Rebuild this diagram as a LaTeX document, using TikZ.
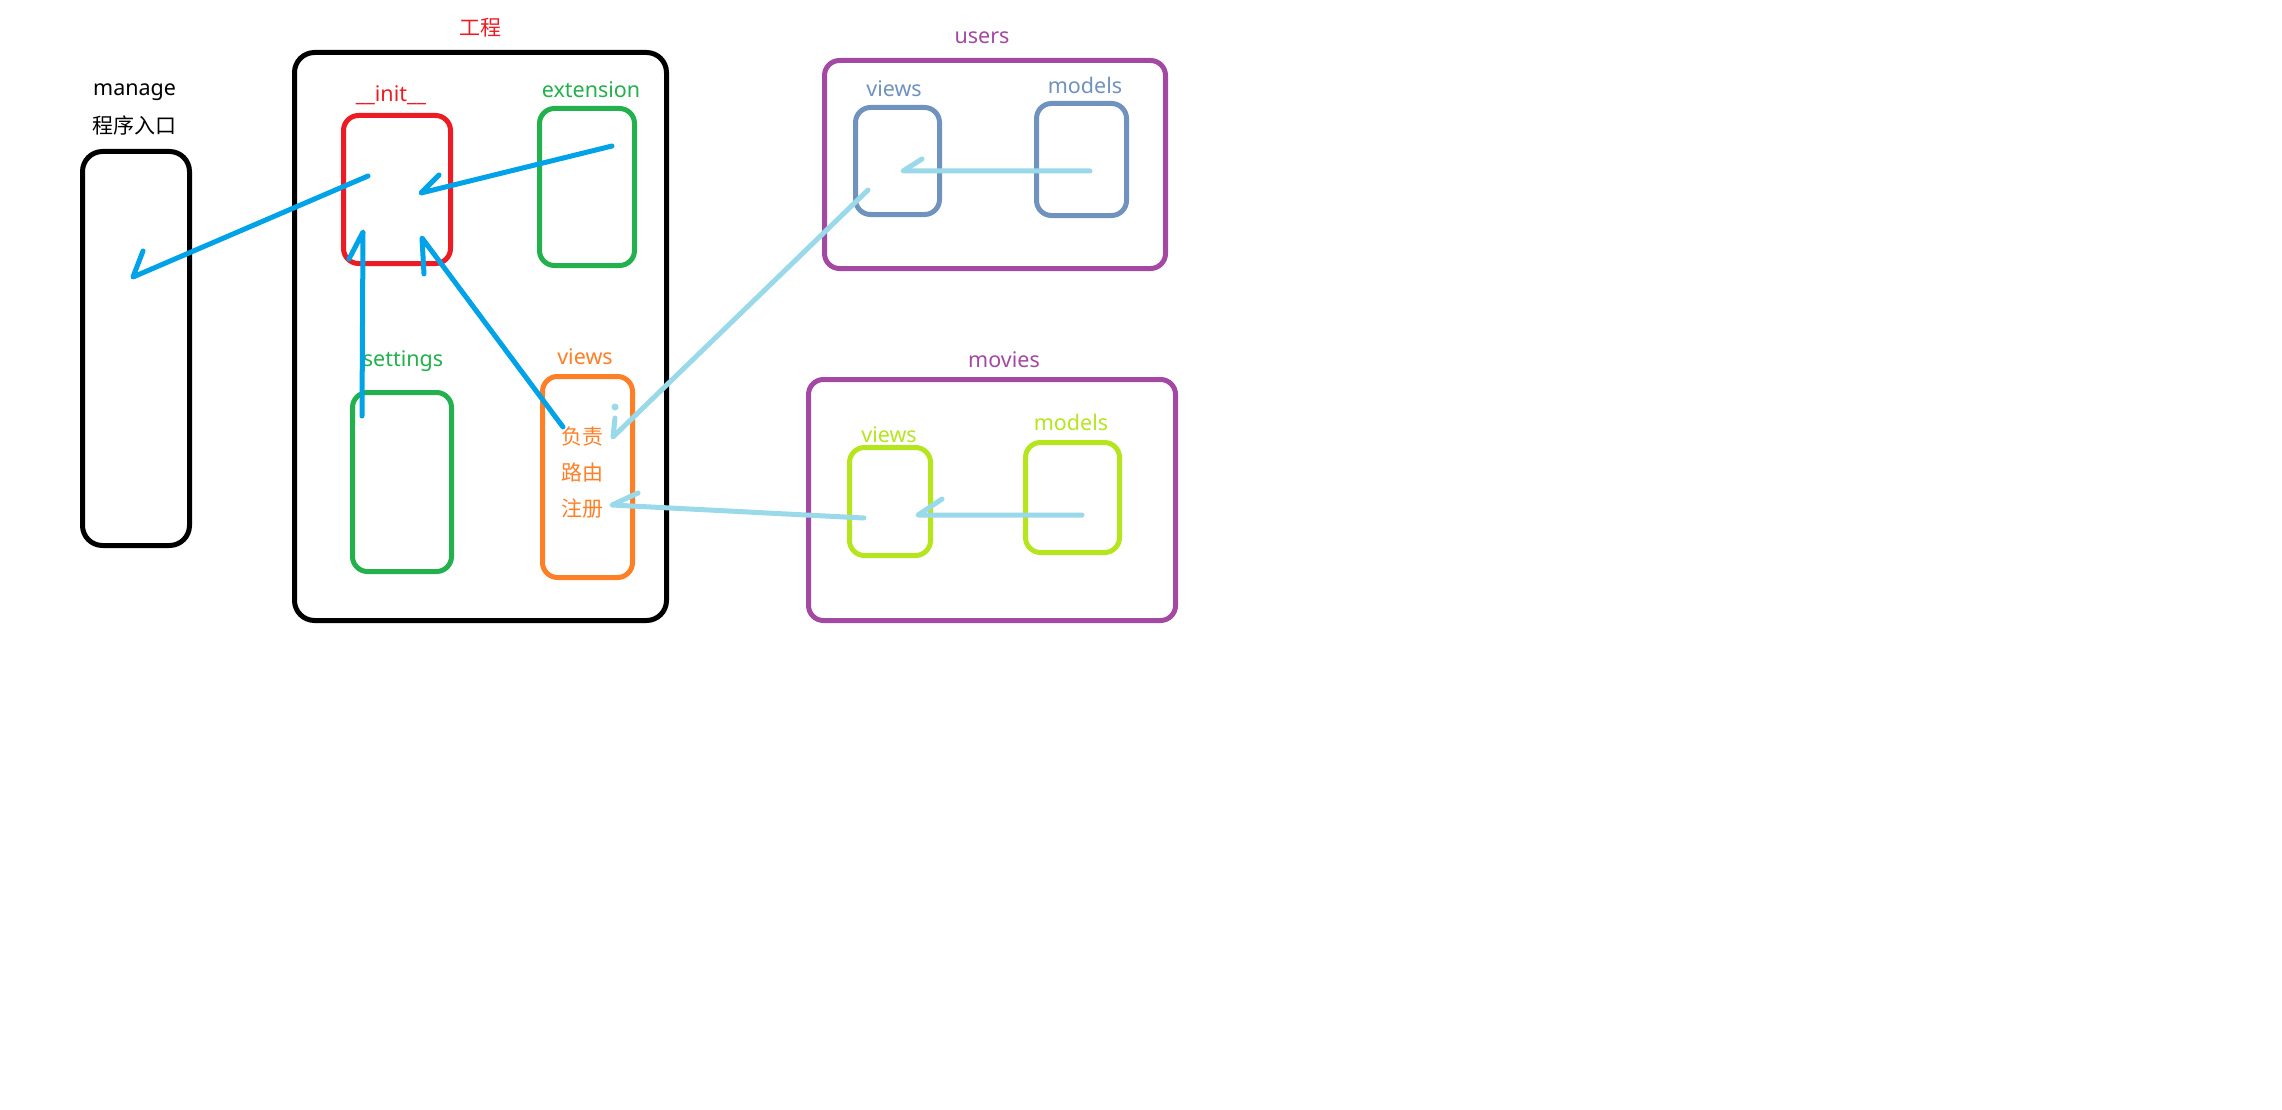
\documentclass[tikz,border=0pt]{standalone}
\usepackage{fontspec}
\setmainfont{Noto Sans}
\newfontfamily\cjkfont{Noto Sans CJK SC}
\usetikzlibrary{calc}

% Paint palette
\definecolor{paintred}{HTML}{ED1C24}
\definecolor{paintgreen}{HTML}{22B14C}
\definecolor{paintorange}{HTML}{FF7F27}
\definecolor{paintpurple}{HTML}{A349A4}
\definecolor{paintsteel}{HTML}{7092BE}
\definecolor{paintlime}{HTML}{B5E61D}
\definecolor{paintsky}{HTML}{99D9EA}
\definecolor{paintblue}{HTML}{00A2E8}

\begin{document}
\begin{tikzpicture}[x=1pt,y=-1pt,
  box/.style={draw, rounded corners=15pt, line width=5pt, inner sep=0pt, outer sep=0pt},
  bigbox/.style={box, rounded corners=20pt},
  lbl/.style={font=\fontsize{21.5}{25}\selectfont, inner sep=0pt, anchor=base},
  cjk/.style={font=\fontsize{21}{25}\selectfont\cjkfont, inner sep=0pt},
  link/.style={line width=5pt, line cap=round, line join=round},
]
\useasboundingbox[fill=white] (0,0) rectangle (2282,1110);

% ---- manage: program entry ----
\node[bigbox, minimum width=107pt, minimum height=394pt] (manage) at (136,348.5) {};
\node[lbl, anchor=base west] (managelbl) at (93,96) {manage};
\node[cjk, anchor=west] (entrylbl) at (92,125) {程序入口};

% ---- project package ----
\node[bigbox, minimum width=372pt, minimum height=568pt] (proj) at (480.5,336.5) {};
\node[cjk, text=paintred] (projlbl) at (480,28) {工程};

\node[box, draw=paintred, minimum width=107pt, minimum height=148pt] (init) at (397,189.5) {};
\node[lbl, text=paintred] (initlbl) at (391,102) {\_\_init\_\_};

\node[box, draw=paintgreen, minimum width=95pt, minimum height=157pt] (ext) at (587,187) {};
\node[lbl, text=paintgreen] (extlbl) at (591,98) {extension};

\node[box, draw=paintgreen, minimum width=99pt, minimum height=179pt] (settings) at (402,482) {};
\node[lbl, text=paintgreen] (settingslbl) at (403,366) {settings};

\node[box, draw=paintorange, minimum width=90pt, minimum height=201pt] (views) at (587.5,477) {};
\node[lbl, text=paintorange] (viewslbl) at (585,364) {views};
\node[cjk, text=paintorange] (fz) at (582,437) {负责};
\node[cjk, text=paintorange] (ly) at (582,473) {路由};
\node[cjk, text=paintorange] (zc) at (582,509) {注册};

% ---- users app ----
\node[box, draw=paintpurple, minimum width=341pt, minimum height=208pt] (users) at (995,164.5) {};
\node[lbl, text=paintpurple] (userslbl) at (982,44) {users};
\node[box, draw=paintsteel, minimum width=84pt, minimum height=107pt] (uviews) at (897.5,161) {};
\node[lbl, text=paintsteel] (uviewslbl) at (894,97) {views};
\node[box, draw=paintsteel, minimum width=90pt, minimum height=112pt] (umodels) at (1081.5,159.5) {};
\node[lbl, text=paintsteel] (umodelslbl) at (1085,94) {models};

% ---- movies app ----
\node[box, draw=paintpurple, minimum width=367pt, minimum height=241pt] (movies) at (992,500) {};
\node[lbl, text=paintpurple] (movieslbl) at (1004,367) {movies};
\node[box, draw=paintlime, minimum width=81pt, minimum height=108pt] (mviews) at (890,501.5) {};
\node[lbl, text=paintlime] (mviewslbl) at (889,442) {views};
\node[box, draw=paintlime, minimum width=94pt, minimum height=110pt] (mmodels) at (1072.5,497.5) {};
\node[lbl, text=paintlime] (mmodelslbl) at (1071,430) {models};

% ---- end points of the hand-drawn arrows ----
\coordinate (a1s) at (368,176);  \coordinate (a1t) at (133,277);
\coordinate (a2s) at (612,146);  \coordinate (a2t) at (421,193);
\coordinate (a3s) at (362,416);  \coordinate (a3t) at (363,232);
\coordinate (a4s) at (563,427);  \coordinate (a4t) at (422,238);
\coordinate (a5s) at (868,190);  \coordinate (a5t) at (613,437);
\coordinate (a6s) at (864,518);  \coordinate (a6t) at (612,505);
\coordinate (a7s) at (1090,171); \coordinate (a7t) at (903,171);
\coordinate (a8s) at (1082,515); \coordinate (a8t) at (918,515);

% imports inside the project
\draw[link, paintblue] (a1s) -- (a1t) -- ++(10,-26);
\draw[link, paintblue] (a2s) -- (a2t) -- ++(18,-18);
\draw[link, paintblue] (a3s) -- (a3t) -- ++(-14,27);
\draw[link, paintblue] (a4s) -- (a4t) -- ++(2,36);

% app wiring
\draw[link, paintsky] (a5s) -- (a5t) -- ++(2,-19);
\fill[paintsky] (615,407) circle (3.5pt);
\draw[link, paintsky] (a6s) -- (a6t) -- ++(26,-12);
\draw[link, paintsky] (a7s) -- (a7t) -- ++(19,-12);
\draw[link, paintsky] (a8s) -- (a8t) -- ++(24,-16);
\end{tikzpicture}
\end{document}
